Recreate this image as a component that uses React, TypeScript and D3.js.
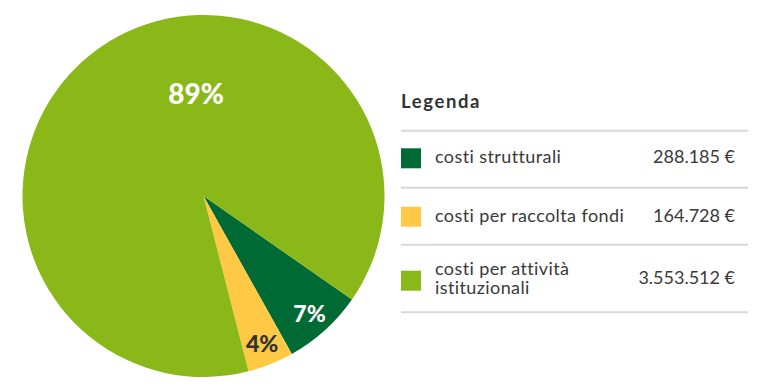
import React, { useEffect, useRef } from 'react';
import * as d3 from 'd3';

const categories = ['costi strutturali', 'costi per raccolta fondi', 'costi per attività istituzionali'];
const labelLines = [['costi strutturali'], ['costi per raccolta fondi'], ['costi per attività', 'istituzionali']];
const values = [288185, 164728, 3553512];
const valueLabels = ['288.185 €', '164.728 €', '3.553.512 €'];
const percentLabels = ['7%', '4%', '89%'];
const colors = ['#006a35', '#ffc845', '#89b818'];

const width = 768;
const height = 389;

interface Slice {
  name: string;
  value: number;
}

const App: React.FC = () => {
  const ref = useRef<SVGSVGElement>(null);

  useEffect(() => {
    if (!ref.current) return;
    const svg = d3.select(ref.current).attr('width', width).attr('height', height);
    svg.selectAll('*').remove();

    const data: Slice[] = categories.map((name, i) => ({ name, value: values[i] }));
    const cx = 203.5;
    const cy = 196;
    const r = 181;
    const start = (124.9 * Math.PI) / 180;

    const pie = d3
      .pie<Slice>()
      .sort(null)
      .value((d) => d.value)
      .startAngle(start)
      .endAngle(start + 2 * Math.PI);
    const arcs = pie(data);
    const arc = d3.arc<d3.PieArcDatum<Slice>>().innerRadius(0).outerRadius(r);
    const labelArc = d3.arc<d3.PieArcDatum<Slice>>().innerRadius(158).outerRadius(158);

    const g = svg.append('g').attr('transform', `translate(${cx},${cy})`);
    g.selectAll('path')
      .data(arcs)
      .enter()
      .append('path')
      .attr('d', arc)
      .attr('fill', (_, i) => colors[i]);

    // percent labels: small slices on their mid angle, big one near the top
    arcs.forEach((a, i) => {
      let [x, y] = labelArc.centroid(a);
      let size = 23;
      if (i === 2) {
        x = -7.5;
        y = -103;
        size = 28;
      }
      g.append('text')
        .attr('x', x)
        .attr('y', y)
        .attr('text-anchor', 'middle')
        .attr('dominant-baseline', 'central')
        .attr('font-family', 'Lato, sans-serif')
        .attr('font-weight', 900)
        .attr('font-size', size)
        .attr('fill', i === 1 ? '#333333' : '#ffffff')
        .text(percentLabels[i]);
    });

    // legend
    const lx = 401;
    const lr = 748;
    const font = 'Lato, sans-serif';
    svg
      .append('text')
      .attr('x', lx)
      .attr('y', 107.5)
      .attr('font-family', font)
      .attr('font-weight', 700)
      .attr('font-size', 18.5)
      .attr('letter-spacing', 1.6)
      .attr('fill', '#333333')
      .text('Legenda');

    const lineYs = [130.7, 187.7, 244.7, 312.3];
    lineYs.forEach((y) => {
      svg
        .append('line')
        .attr('x1', lx)
        .attr('x2', lr)
        .attr('y1', y)
        .attr('y2', y)
        .attr('stroke', '#d8d8d8')
        .attr('stroke-width', 2);
    });

    const swatchY = [148.3, 206.7, 270.7];
    const valueY = [163.3, 221.5, 284];
    categories.forEach((_, i) => {
      svg
        .append('rect')
        .attr('x', lx)
        .attr('y', swatchY[i])
        .attr('width', 20)
        .attr('height', 20)
        .attr('fill', colors[i]);

      const lines = labelLines[i];
      const t = svg
        .append('text')
        .attr('font-family', font)
        .attr('font-size', 18)
        .attr('letter-spacing', 0.4)
        .attr('fill', '#3a3a3a');
      lines.forEach((ln, j) => {
        t.append('tspan')
          .attr('x', 435)
          .attr('y', lines.length === 1 ? valueY[i] : 275 + j * 18.5)
          .text(ln);
      });

      svg
        .append('text')
        .attr('x', 735)
        .attr('y', valueY[i])
        .attr('text-anchor', 'end')
        .attr('font-family', font)
        .attr('font-size', 18)
        .attr('fill', '#3a3a3a')
        .text(valueLabels[i]);
    });
  }, []);

  return <svg ref={ref} style={{ position: 'absolute', left: 0, top: 0 }}></svg>;
};

export default App;
